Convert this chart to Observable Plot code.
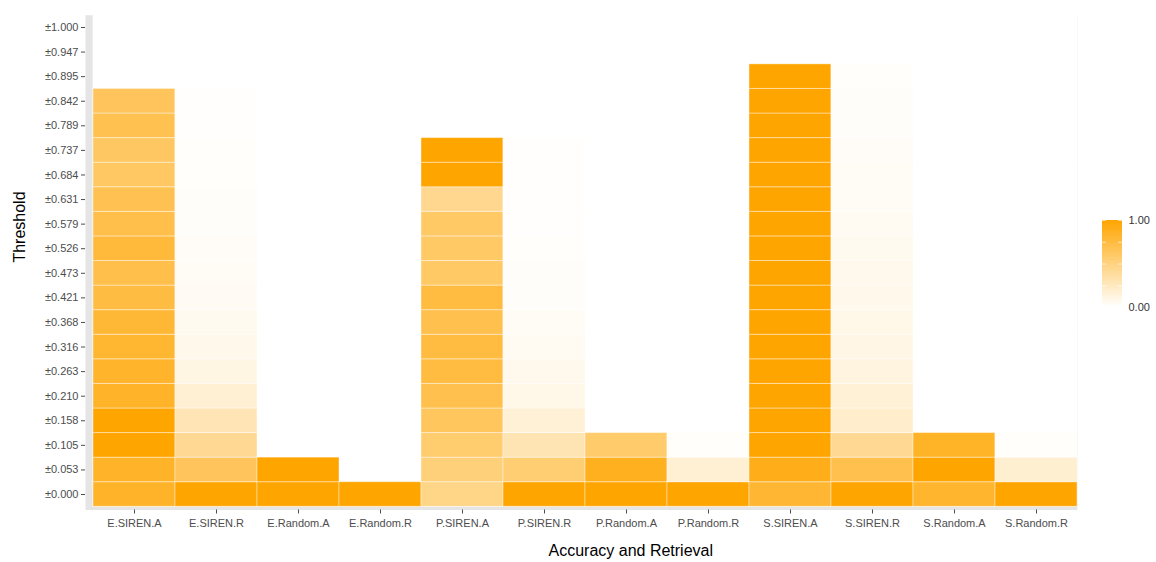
<!DOCTYPE html>
<html>
<head>
<meta charset="utf-8">
<script src="https://cdn.jsdelivr.net/npm/d3@7"></script>
<script src="https://cdn.jsdelivr.net/npm/@observablehq/plot@0.6"></script>
<style>
  body { margin: 0; background: #fff; font-family: "Liberation Sans", Arial, sans-serif; }
  #chart { position: relative; width: 1156px; height: 562px; }
  #legend { position: absolute; left: 1096px; top: 208px; }
</style>
</head>
<body>
<div id="chart"></div>
<script>
// Columns of the heatmap (conditions: accuracy / retrieval per method)
const categories = [
  "E.SIREN.A", "E.SIREN.R", "E.Random.A", "E.Random.R",
  "P.SIREN.A", "P.SIREN.R", "P.Random.A", "P.Random.R",
  "S.SIREN.A", "S.SIREN.R", "S.Random.A", "S.Random.R"
];

// Threshold rows, bottom to top
const thresholds = [
  "±0.000", "±0.053", "±0.105", "±0.158", "±0.210", "±0.263", "±0.316",
  "±0.368", "±0.421", "±0.473", "±0.526", "±0.579", "±0.631", "±0.684",
  "±0.737", "±0.789", "±0.842", "±0.895", "±0.947", "±1.000"
];

// Proportions per column, listed from threshold ±0.000 upward
const eSirenA  = [0.84, 0.84, 1.00, 1.00, 0.84, 0.83, 0.81, 0.79, 0.74, 0.71, 0.77, 0.71, 0.68, 0.61, 0.62, 0.69, 0.64];
const eSirenR  = [1.00, 0.64, 0.42, 0.29, 0.17, 0.11, 0.08, 0.06, 0.045, 0.035, 0.03, 0.025, 0.02, 0.015, 0.015, 0.01, 0.01];
const eRandomA = [1.00, 1.00];
const eRandomR = [1.00];
const pSirenA  = [0.47, 0.52, 0.57, 0.63, 0.70, 0.75, 0.75, 0.70, 0.75, 0.60, 0.60, 0.60, 0.44, 1.00, 1.00];
const pSirenR  = [1.00, 0.55, 0.30, 0.16, 0.09, 0.07, 0.05, 0.035, 0.025, 0.02, 0.015, 0.012, 0.01, 0.01, 0.008];
const pRandomA = [1.00, 0.88, 0.58];
const pRandomR = [1.00, 0.17, 0.015];
const sSirenA  = [0.80, 0.90, 1, 1, 1, 1, 1, 1, 1, 1, 1, 1, 1, 1, 1, 1, 1, 1];
const sSirenR  = [1.00, 0.70, 0.42, 0.20, 0.16, 0.12, 0.10, 0.09, 0.08, 0.07, 0.06, 0.05, 0.04, 0.035, 0.03, 0.025, 0.02, 0.015];
const sRandomA = [0.82, 1.00, 0.85];
const sRandomR = [1.00, 0.18, 0.015];

const columns = [eSirenA, eSirenR, eRandomA, eRandomR, pSirenA, pSirenR, pRandomA, pRandomR, sSirenA, sSirenR, sRandomA, sRandomR];

// Long-format table for the cell mark
const cells = [];
columns.forEach((vals, i) => vals.forEach((v, j) => {
  cells.push({category: categories[i], threshold: thresholds[j], value: v});
}));
// Full grid of empty (white) tiles underneath
const grid = d3.cross(categories, thresholds).map(([category, threshold]) => ({category, threshold}));

const colorScale = {type: "linear", domain: [0, 1], range: ["#ffffff", "#ffa500"], interpolate: "rgb"};
const font = "'Liberation Sans', Arial, sans-serif";

const chart = Plot.plot({
  width: 1156,
  height: 562,
  marginLeft: 85,
  marginRight: 79,
  marginTop: 14.7,
  marginBottom: 52.5,
  style: {fontFamily: font, fontSize: "11px", color: "#4d4d4d", background: "white"},
  x: {type: "band", domain: categories, padding: 0, round: false, insetLeft: 8, label: null},
  y: {type: "band", domain: thresholds.slice().reverse(), padding: 0, round: false, insetBottom: 3.2, label: null},
  color: colorScale,
  marks: [
    Plot.frame({fill: "#e5e5e5", stroke: null}),
    Plot.cell(grid, {x: "category", y: "threshold", fill: "white", inset: 0,
                     stroke: "white", strokeWidth: 0.8}),
    Plot.cell(cells, {x: "category", y: "threshold", fill: "value", inset: 0,
                      stroke: "white", strokeOpacity: 0.4, strokeWidth: 1}),
    Plot.axisY({tickSize: 4, tickPadding: 3, fontSize: 11, label: null}),
    Plot.axisX({tickSize: 4, tickPadding: 5, fontSize: 11, label: null}),
    Plot.text(["Threshold"], {frameAnchor: "left", dx: -66, rotate: -90, fontSize: 16, fill: "black"}),
    Plot.text(["Accuracy and Retrieval"], {frameAnchor: "bottom-left", textAnchor: "start",
                                           dx: 463, dy: 46, fontSize: 16, fill: "black"})
  ]
});

// Vertical colour bar legend
const ramp = d3.range(0, 100).map(k => ({lo: k / 100, hi: Math.min(1, (k + 1.5) / 100), mid: (k + 0.5) / 100}));
const legend = Plot.plot({
  width: 60,
  height: 110,
  marginLeft: 6,
  marginRight: 34,
  marginTop: 12,
  marginBottom: 11,
  style: {fontFamily: font, fontSize: "11px", color: "#333", background: "transparent", overflow: "visible"},
  x: {domain: [0, 1], axis: null},
  y: {domain: [0, 1], axis: null},
  color: colorScale,
  marks: [
    Plot.rect(ramp, {x1: 0, x2: 1, y1: "lo", y2: "hi", fill: "mid", inset: 0, shapeRendering: "crispEdges"}),
    Plot.ruleY([0.25, 0.5, 0.75, 1], {x1: 0, x2: 0.2, stroke: "white", strokeOpacity: 0.6}),
    Plot.ruleY([0.25, 0.5, 0.75, 1], {x1: 0.8, x2: 1, stroke: "white", strokeOpacity: 0.6}),
    Plot.axisY({anchor: "right", ticks: [0, 1], tickFormat: d => d.toFixed(2), tickSize: 0, tickPadding: 6, fontSize: 11, label: null})
  ]
});
legend.id = "legend";

const container = document.getElementById("chart");
container.appendChild(chart);
container.appendChild(legend);
</script>
</body>
</html>
